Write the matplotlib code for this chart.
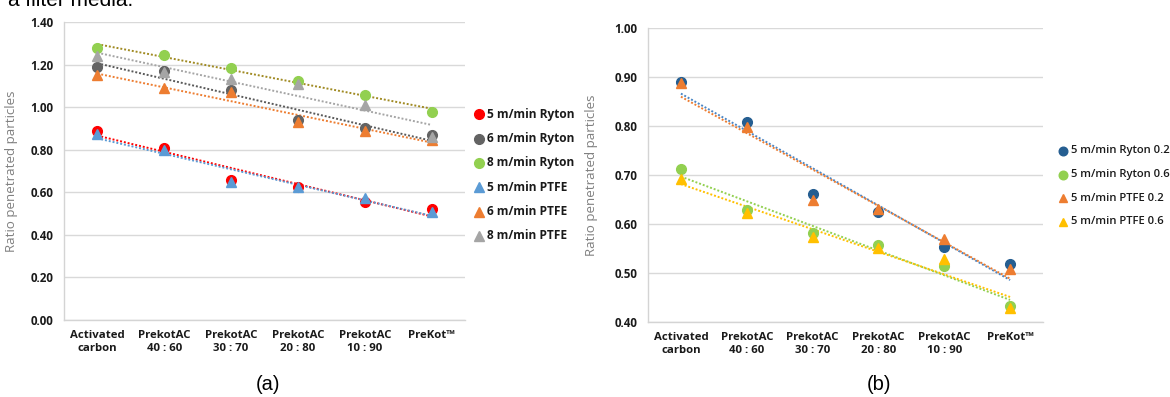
import matplotlib
matplotlib.use("Agg")
import matplotlib.pyplot as plt
import numpy as np
from matplotlib.lines import Line2D

plt.rcParams["font.family"] = ["Open Sans", "DejaVu Sans"]

categories = ["Activated\ncarbon", "PrekotAC\n40 : 60", "PrekotAC\n30 : 70",
              "PrekotAC\n20 : 80", "PrekotAC\n10 : 90", "PreKot™"]

# panel (a)
ryton_5 = [0.89, 0.81, 0.66, 0.625, 0.553, 0.52]
ryton_6 = [1.188, 1.168, 1.082, 0.938, 0.90, 0.868]
ryton_8 = [1.279, 1.243, 1.186, 1.122, 1.057, 0.979]
ptfe_5 = [0.876, 0.80, 0.647, 0.627, 0.572, 0.507]
ptfe_6 = [1.15, 1.09, 1.07, 0.928, 0.89, 0.845]
ptfe_8 = [1.24, 1.163, 1.131, 1.11, 1.012, 0.86]

# panel (b)
ryton_02 = [0.890, 0.809, 0.661, 0.625, 0.553, 0.517]
ryton_06 = [0.712, 0.628, 0.582, 0.556, 0.513, 0.433]
ptfe_02 = [0.889, 0.798, 0.648, 0.631, 0.570, 0.508]
ptfe_06 = [0.692, 0.622, 0.573, 0.551, 0.529, 0.429]

series_a = [
    ("5 m/min Ryton", ryton_5, "o", "#ff0000", "#ff0000"),
    ("6 m/min Ryton", ryton_6, "o", "#636363", "#595959"),
    ("8 m/min Ryton", ryton_8, "o", "#92d050", "#a08a22"),
    ("5 m/min PTFE", ptfe_5, "^", "#5b9bd5", "#5b9bd5"),
    ("6 m/min PTFE", ptfe_6, "^", "#ed7d31", "#ed7d31"),
    ("8 m/min PTFE", ptfe_8, "^", "#a5a5a5", "#a5a5a5"),
]
series_b = [
    ("5 m/min Ryton 0.2", ryton_02, "o", "#255e91", "#4a86c5"),
    ("5 m/min Ryton 0.6", ryton_06, "o", "#92d050", "#92d050"),
    ("5 m/min PTFE 0.2", ptfe_02, "^", "#ed7d31", "#ed7d31"),
    ("5 m/min PTFE 0.6", ptfe_06, "^", "#ffc000", "#ffc000"),
]

W, H = 1170, 397
fig = plt.figure(figsize=(W / 100, H / 100), dpi=100)


def px_box(x0, x1, ytop, ybot):
    return [x0 / W, 1 - ybot / H, (x1 - x0) / W, (ybot - ytop) / H]


def draw_panel(ax, series, ylim, step, leg_x, leg_y, leg_gap, msize, lmsize, lfs, lfw):
    x = np.arange(len(categories))
    for name, vals, mk, col, tcol in series:
        k, b = np.polyfit(x, vals, 1)
        ax.plot(x, k * x + b, color=tcol, lw=1.4, ls=(0, (1, 1)), zorder=2)
    for name, vals, mk, col, tcol in series:
        ax.plot(x, vals, mk, color=col, ms=msize, mec=col, zorder=3)
    ax.set_xlim(-0.5, len(categories) - 0.5)
    ax.set_ylim(*ylim)
    ax.set_yticks(np.arange(ylim[0], ylim[1] + step / 2, step))
    ax.yaxis.set_major_formatter(matplotlib.ticker.FormatStrFormatter("%.2f"))
    ax.set_xticks(x)
    ax.set_xticklabels(categories, fontsize=8.2, fontweight="bold",
                       color="#1a1a1a", linespacing=1.25)
    ax.tick_params(axis="y", labelsize=8.4, length=0, pad=7.5, labelcolor="#1a1a1a")
    ax.tick_params(axis="x", length=0, pad=7.5)
    for t in ax.get_yticklabels():
        t.set_fontweight("bold")
    ax.grid(axis="y", color="#d9d9d9", lw=1.0)
    ax.set_axisbelow(True)
    for s in ["top", "right"]:
        ax.spines[s].set_visible(False)
    for s in ["left", "bottom"]:
        ax.spines[s].set_color("#d4d4d4")
        ax.spines[s].set_linewidth(1.0)
    ax.set_ylabel("Ratio penetrated particles", fontsize=9.6, color="#808080")

    # legend entries
    for i, (name, vals, mk, col, tcol) in enumerate(series):
        yy = 1 - (leg_y + i * leg_gap) / H
        fig.add_artist(Line2D([leg_x / W], [yy], marker=mk, color=col,
                              ms=lmsize, ls="none", transform=fig.transFigure))
        fig.text((leg_x + 8) / W, yy, name, fontsize=lfs, fontweight=lfw,
                 color="#1a1a1a", va="center", ha="left")


ax1 = fig.add_axes(px_box(64, 465, 22, 320))
draw_panel(ax1, series_a, (0.0, 1.40), 0.20, 479, 114.3, 24.3, 7.0, 7.0, 8.6, "bold")
ax1.yaxis.set_label_coords(-46 / 401, 0.5)

ax2 = fig.add_axes(px_box(648, 1043, 28.3, 321.7))
draw_panel(ax2, series_b, (0.40, 1.00), 0.10, 1063, 151, 23.6, 7.0, 6.2, 8.1, "semibold")
ax2.yaxis.set_label_coords(-50 / 395, 0.5)

fig.text(268 / W, 1 - 384 / H, "(a)", fontsize=14.5, ha="center", va="center",
         family=["Liberation Sans", "DejaVu Sans"])
fig.text(879 / W, 1 - 384 / H, "(b)", fontsize=14.5, ha="center", va="center",
         family=["Liberation Sans", "DejaVu Sans"])
fig.text(8 / W, 1 - 6 / H, "a filter media.", fontsize=15, ha="left",
         va="baseline", family=["Liberation Sans", "DejaVu Sans"])

fig.savefig("out.png", dpi=100)
